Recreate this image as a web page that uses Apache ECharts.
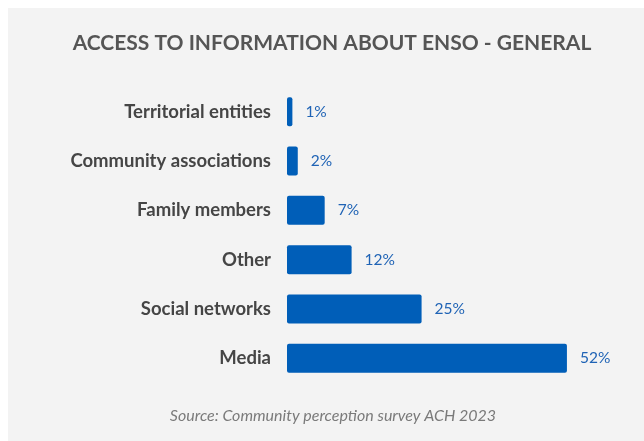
<!DOCTYPE html>
<html>
<head>
<meta charset="utf-8">
<script src="https://cdn.jsdelivr.net/npm/echarts@6/dist/echarts.min.js"></script>
<style>
  html, body { margin: 0; padding: 0; background: #ffffff; }
  #chart { width: 644px; height: 441px; }
</style>
</head>
<body>
<div id="chart"></div>
<script>
// Survey responses: where people get information about ENSO (percent)
const categories = ['Media', 'Social networks', 'Other', 'Family members', 'Community associations', 'Territorial entities'];
const shares = [52, 25, 12, 7, 2, 1];

const titleText = 'ACCESS TO INFORMATION ABOUT ENSO - GENERAL';
const sourceText = 'Source: Community perception survey ACH 2023';

const chart = echarts.init(document.getElementById('chart'), null, { renderer: 'canvas' });

chart.setOption({
  backgroundColor: '#ffffff',
  animation: false,
  graphic: [
    {
      type: 'rect',
      left: 8, top: 8,
      shape: { width: 636, height: 433 },
      style: { fill: '#f3f3f3' },
      z: -10
    },
    {
      type: 'text',
      x: 332, y: 43,
      style: {
        text: titleText,
        font: 'bold 21px Lato',
        fill: '#555555',
        align: 'center',
        verticalAlign: 'middle'
      }
    },
    {
      type: 'text',
      x: 333, y: 416,
      style: {
        text: sourceText,
        font: 'italic 16px Lato',
        fill: '#7a7a7a',
        align: 'center',
        verticalAlign: 'middle'
      }
    }
  ],
  grid: { left: 287, top: 87, width: 323, height: 296, containLabel: false },
  xAxis: {
    type: 'value',
    min: 0, max: 60,
    show: false
  },
  yAxis: {
    type: 'category',
    data: categories,
    axisLine: { show: false },
    axisTick: { show: false },
    axisLabel: {
      margin: 16,
      fontFamily: 'Lato',
      fontWeight: 'bold',
      fontSize: 18.5,
      color: '#454545'
    }
  },
  series: [{
    type: 'bar',
    data: shares,
    barWidth: 29,
    itemStyle: { color: '#005eb8', borderRadius: 2 },
    label: {
      show: true,
      position: 'right',
      distance: 13,
      formatter: '{c}%',
      fontFamily: 'Lato',
      fontSize: 15.5,
      color: '#1f63b5'
    }
  }]
});
</script>
</body>
</html>
